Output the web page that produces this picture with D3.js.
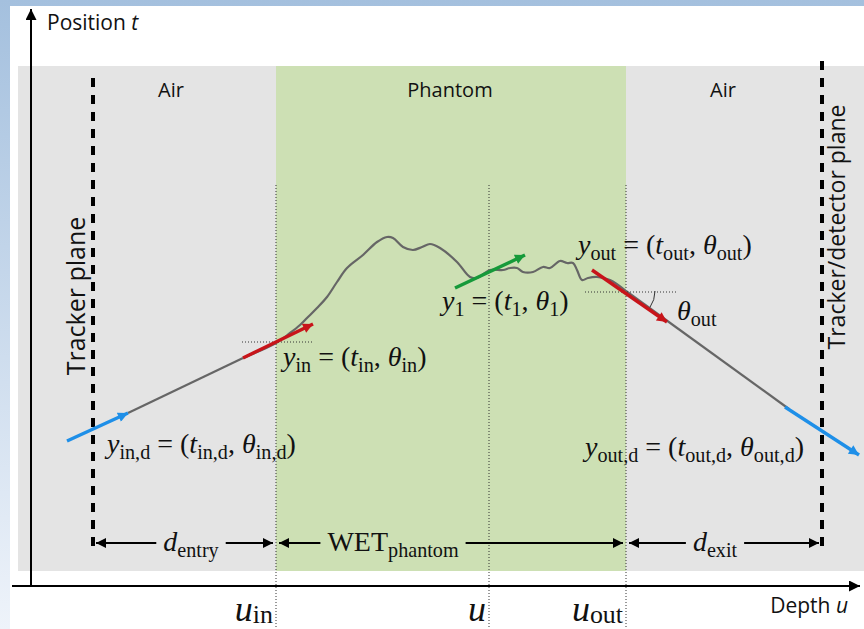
<!DOCTYPE html>
<html><head><meta charset="utf-8">
<script src="https://cdn.jsdelivr.net/npm/d3@7"></script>
<style>html,body{margin:0;padding:0;background:#fff;}svg{display:block;}</style>
</head><body>
<svg id="c" width="864" height="629"></svg>
<script>
// ---------- data (depth u, position t in diagram units) ----------
const regionNames = ["Air", "Phantom", "Air"];
const regionStart = [-13, 245, 595];
const regionEnd   = [245, 595, 833];
const regionFill  = ["#e4e4e4", "#cde0b4", "#e4e4e4"];
const regionLabelU = [140, 419, 692];
const regionTop = 520, regionBottom = 15;

const planeNames  = ["Tracker plane", "Tracker/detector plane"];
const planeDepths = [62, 791];
const planeTop    = [508, 525];
const planeLabelT = [290, 359];
const planeLabelSize = [25, 23];

const markerLabels = ["*u*_{in}", "*u*", "*u*_{out}"];
const markerDepths = [245, 458, 595];

// proton path inside the phantom (u, t)
const pathU = [212,245,259,269,276,286,296,306,316,332,346,356,362,372,382,391,399,409,426,439,446,459,472,479,486,492,502,512,519,529,536,542,546,551,557,566,579,595];
const pathT = [228,243,253,261,268,278,289,304,318,331,344,349,348,339,336,339,342,338,324,309,308,316,316,318,318,314,314,319,318,325,323,323,316,306,308,309,306,295];

// straight segments [u0,t0,u1,t1]
const greyLines = [[97,173,212,228],[595,295,758,177]];
const arrowSegs = [
  {seg:[36,145,97,173],  color:"#1e8fe8"},
  {seg:[212,228,282,262],color:"#c8141a"},
  {seg:[424,298,494,331],color:"#169a3a"},
  {seg:[561,316,636,264],color:"#c8141a"},
  {seg:[754,179,828,131],color:"#1e8fe8"}
];
const refLines = [[211,282,244],[554,646,294]];

const mathLabels = [
  {text:"*y*_{in} = (*t*_{in}, *θ*_{in})", u:252, t:220},
  {text:"*y*_{1} = (*t*_{1}, *θ*_{1})", u:411, t:276},
  {text:"*y*_{out} = (*t*_{out}, *θ*_{out})", u:547, t:332},
  {text:"*θ*_{out}", u:646, t:266},
  {text:"*y*_{in,d} = (*t*_{in,d}, *θ*_{in,d})", u:76, t:133},
  {text:"*y*_{out,d} = (*t*_{out,d}, *θ*_{out,d})", u:554, t:130}
];

const dimLabels = ["*d*_{entry}", "WET_{phantom}", "*d*_{exit}"];
const dimStart = [62, 245, 595];
const dimEnd   = [245, 595, 791];
const dimLabelU = [160, 362, 684];
const dimT = 43;

// ---------- scales ----------
const W = 864, H = 629;
const x = d3.scaleLinear().domain([0, 829]).range([31, 860]);
const y = d3.scaleLinear().domain([0, 577]).range([586, 9]);

const svg = d3.select("#c");
const defs = svg.append("defs");
const grad = defs.append("linearGradient").attr("id","bg").attr("x1",0).attr("y1",0).attr("x2",0).attr("y2",1);
grad.append("stop").attr("offset","0%").attr("stop-color","#a4c0de");
grad.append("stop").attr("offset","100%").attr("stop-color","#eef3fa");

function marker(id, color, w, h) {
  defs.append("marker").attr("id", id).attr("viewBox","0 0 10 10")
    .attr("refX", 10).attr("refY", 5).attr("markerUnits","userSpaceOnUse")
    .attr("markerWidth", w).attr("markerHeight", h).attr("orient","auto-start-reverse")
    .append("path").attr("d","M0,0 L10,5 L0,10 z").attr("fill", color);
}
arrowSegs.forEach((a,i)=>marker("m"+i, a.color, 15, 10));
marker("mk", "#000", 15, 10);
marker("ax", "#000", 17, 11);

svg.append("rect").attr("width",W).attr("height",H).attr("fill","url(#bg)");
svg.append("rect").attr("x",10).attr("y",6).attr("width",W-10).attr("height",H-6).attr("fill","#fff");

const sans = "'Open Sans', sans-serif";
// regions
svg.selectAll("rect.reg").data(regionNames).join("rect").attr("class","reg")
  .attr("x",(d,i)=>x(regionStart[i])).attr("width",(d,i)=>x(regionEnd[i])-x(regionStart[i]))
  .attr("y",y(regionTop)).attr("height",y(regionBottom)-y(regionTop))
  .attr("fill",(d,i)=>regionFill[i]);
svg.selectAll("text.reg").data(regionNames).join("text").attr("class","reg")
  .attr("x",(d,i)=>x(regionLabelU[i])).attr("y",97).attr("text-anchor","middle")
  .style("font-family",sans).style("font-size","20px").attr("fill","#111")
  .text(d=>d);

// axes
svg.append("line").attr("x1",x(0)).attr("x2",x(0)).attr("y1",y(0)).attr("y2",y(577))
  .attr("stroke","#000").attr("stroke-width",2).attr("marker-end","url(#ax)");
svg.append("line").attr("x1",12).attr("x2",x(829)).attr("y1",y(0)).attr("y2",y(0))
  .attr("stroke","#000").attr("stroke-width",2).attr("marker-end","url(#ax)");
const pt = svg.append("text").attr("x",47).attr("y",30).style("font-family",sans).style("font-size","21px").attr("fill","#111");
pt.append("tspan").text("Position ");
pt.append("tspan").style("font-style","italic").text("t");
const du = svg.append("text").attr("x",848).attr("y",613).attr("text-anchor","end").style("font-family",sans).style("font-size","21px").attr("fill","#111");
du.append("tspan").text("Depth ");
du.append("tspan").style("font-style","italic").text("u");

// planes
svg.selectAll("line.plane").data(planeDepths).join("line").attr("class","plane")
  .attr("x1",d=>x(d)).attr("x2",d=>x(d)).attr("y1",(d,i)=>y(planeTop[i])).attr("y2",y(37))
  .attr("stroke","#000").attr("stroke-width",4).attr("stroke-dasharray","9,8");
svg.selectAll("text.plane").data(planeNames).join("text").attr("class","plane")
  .attr("transform",(d,i)=>`translate(${x(planeDepths[i]) - 8 + i*31},${y(planeLabelT[i])}) rotate(-90)`)
  .attr("text-anchor","middle").style("font-family",sans).style("font-size",(d,i)=>planeLabelSize[i]+"px").attr("fill","#111")
  .text(d=>d);

// marker dotted lines
svg.selectAll("line.mk").data(markerDepths).join("line").attr("class","mk")
  .attr("x1",d=>x(d)).attr("x2",d=>x(d)).attr("y1",y(401)).attr("y2",H)
  .attr("stroke","#333").attr("stroke-width",1).attr("stroke-dasharray","1,2");

// math text helper
const serif = "'Liberation Serif', 'Times New Roman', serif";
function mathText(sel, str, size, subShift) {
  const shift = size * (subShift === undefined ? 0.22 : subShift);
  const re = /\*([^*]+)\*|_\{([^}]+)\}|([^*_]+)/g;
  let m, pending = 0;
  sel.style("font-family", serif).style("font-size", size+"px").attr("fill","#111");
  while ((m = re.exec(str)) !== null) {
    let ts;
    if (m[2]) {
      ts = sel.append("tspan").attr("dy", pending + shift).style("font-size",(size*0.72)+"px").text(m[2]);
      pending = -shift;
    } else {
      ts = sel.append("tspan").text(m[1] || m[3]);
      if (m[1]) ts.style("font-style","italic");
      if (pending) { ts.attr("dy", pending); pending = 0; }
    }
  }
  return sel;
}

// path
svg.append("path").datum(pathU.map((u,i)=>[u,pathT[i]]))
  .attr("d", d3.line().x(d=>x(d[0])).y(d=>y(d[1])).curve(d3.curveCatmullRom.alpha(0.5)))
  .attr("fill","none").attr("stroke","#666").attr("stroke-width",2.2);
svg.selectAll("line.grey").data(greyLines).join("line").attr("class","grey")
  .attr("x1",d=>x(d[0])).attr("y1",d=>y(d[1])).attr("x2",d=>x(d[2])).attr("y2",d=>y(d[3]))
  .attr("stroke","#666").attr("stroke-width",2.2);

// reference dotted lines + angle arc
svg.selectAll("line.ref").data(refLines).join("line").attr("class","ref")
  .attr("x1",d=>x(d[0])).attr("x2",d=>x(d[1])).attr("y1",d=>y(d[2])).attr("y2",d=>y(d[2]))
  .attr("stroke","#333").attr("stroke-width",1).attr("stroke-dasharray","1,2");
{
  const cx = x(595), cy = y(295), r = 29, a = Math.atan2(y(264)-y(316), x(636)-x(561));
  svg.append("path").attr("d",`M${cx+r},${cy} A${r},${r} 0 0 1 ${cx+r*Math.cos(a)},${cy+r*Math.sin(a)}`)
    .attr("fill","none").attr("stroke","#333").attr("stroke-width",1);
}

// coloured arrows
svg.selectAll("line.arr").data(arrowSegs).join("line").attr("class","arr")
  .attr("x1",d=>x(d.seg[0])).attr("y1",d=>y(d.seg[1])).attr("x2",d=>x(d.seg[2])).attr("y2",d=>y(d.seg[3]))
  .attr("stroke",d=>d.color).attr("stroke-width",3.4).attr("marker-end",(d,i)=>`url(#m${i})`);

// math labels
mathLabels.forEach(l => mathText(svg.append("text").attr("x",x(l.u)).attr("y",y(l.t)), l.text, 28));

// dimension arrows
dimLabels.forEach((lab,i) => {
  const x0 = x(dimStart[i]), x1 = x(dimEnd[i]), cy = y(dimT), cx = x(dimLabelU[i]);
  const t = mathText(svg.append("text").attr("x",cx).attr("y",cy+8).attr("text-anchor","middle"), lab, 28);
  const w = t.node().getComputedTextLength();
  const gap = 7;
  svg.append("line").attr("x1",cx - w/2 - gap).attr("x2",x0+3).attr("y1",cy).attr("y2",cy)
    .attr("stroke","#000").attr("stroke-width",2).attr("marker-end","url(#mk)");
  svg.append("line").attr("x1",cx + w/2 + gap).attr("x2",x1-3).attr("y1",cy).attr("y2",cy)
    .attr("stroke","#000").attr("stroke-width",2).attr("marker-end","url(#mk)");
});

// axis marker labels
markerLabels.forEach((lab,i) => {
  mathText(svg.append("text").attr("x",x(markerDepths[i])-3).attr("y",621).attr("text-anchor","end"), lab, 36, 0.06);
});
</script>
</body></html>
